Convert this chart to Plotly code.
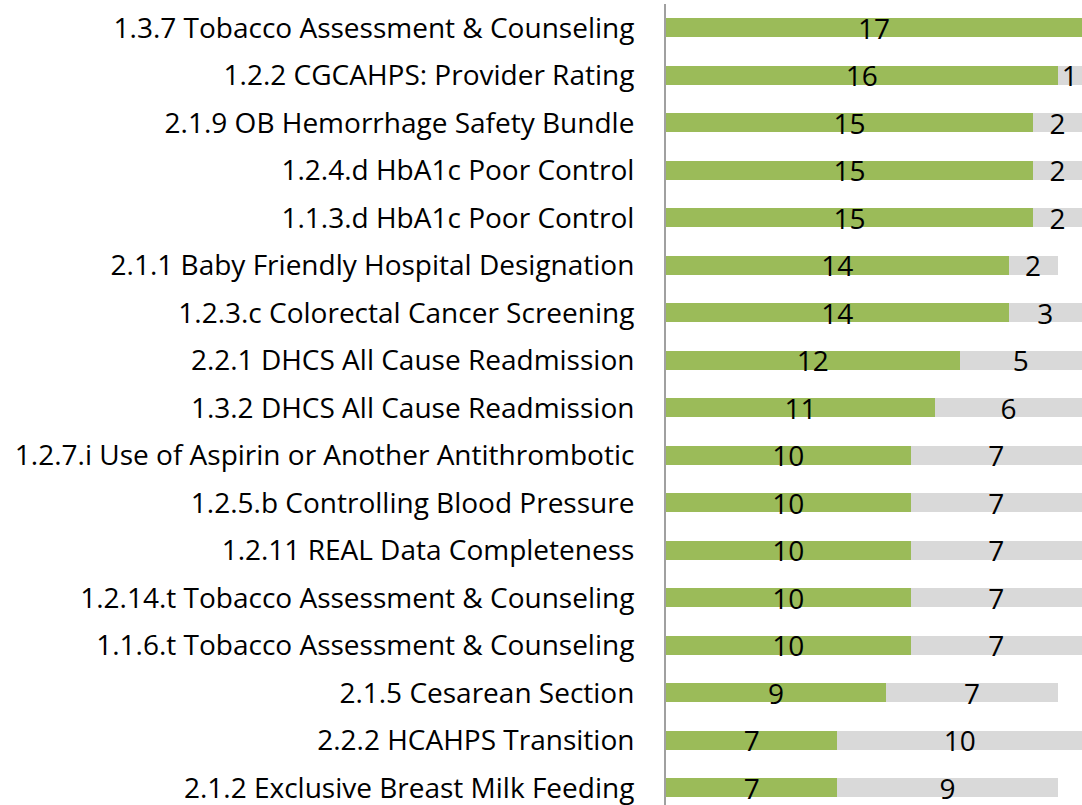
import plotly.graph_objects as go

categories = [
    "1.3.7 Tobacco Assessment & Counseling",
    "1.2.2 CGCAHPS: Provider Rating",
    "2.1.9 OB Hemorrhage Safety Bundle",
    "1.2.4.d HbA1c Poor Control",
    "1.1.3.d HbA1c Poor Control",
    "2.1.1 Baby Friendly Hospital Designation",
    "1.2.3.c Colorectal Cancer Screening",
    "2.2.1 DHCS All Cause Readmission",
    "1.3.2 DHCS All Cause Readmission",
    "1.2.7.i Use of Aspirin or Another Antithrombotic",
    "1.2.5.b Controlling Blood Pressure",
    "1.2.11 REAL Data Completeness",
    "1.2.14.t Tobacco Assessment & Counseling",
    "1.1.6.t Tobacco Assessment & Counseling",
    "2.1.5 Cesarean Section",
    "2.2.2 HCAHPS Transition",
    "2.1.2 Exclusive Breast Milk Feeding",
]
met = [17, 16, 15, 15, 15, 14, 14, 12, 11, 10, 10, 10, 10, 10, 9, 7, 7]
not_met = [0, 1, 2, 2, 2, 2, 3, 5, 6, 7, 7, 7, 7, 7, 7, 10, 9]

FONT = "'Open Sans', 'Noto Sans', sans-serif"
FS = 28

fig = go.Figure()
fig.add_trace(go.Bar(
    y=categories, x=met, orientation="h",
    marker=dict(color="#9BBB59", line=dict(width=0)),
    text=[str(v) if v else "" for v in met],
    textposition="inside", insidetextanchor="middle", textangle=0,
    constraintext="none", cliponaxis=False,
    textfont=dict(family=FONT, size=FS, color="#000000"),
    hoverinfo="skip",
))
fig.add_trace(go.Bar(
    y=categories, x=not_met, orientation="h",
    marker=dict(color="#D9D9D9", line=dict(width=0)),
    text=[str(v) if v else "" for v in not_met],
    textposition="inside", insidetextanchor="middle", textangle=0,
    constraintext="none", cliponaxis=False,
    textfont=dict(family=FONT, size=FS, color="#000000"),
    hoverinfo="skip",
))

fig.update_layout(
    barmode="stack",
    bargap=0.6,
    width=1082, height=805,
    margin=dict(l=666, r=0, t=4, b=0, autoexpand=False),
    paper_bgcolor="white", plot_bgcolor="white",
    showlegend=False,
    font=dict(family=FONT, color="#000000"),
)
fig.update_xaxes(range=[0, 17], visible=False, showgrid=False, zeroline=False, automargin=False)
fig.update_yaxes(
    type="category",
    range=[16.36, -0.5],
    automargin=False,
    showline=True, linecolor="#A0A0A0", linewidth=2,
    showgrid=False, zeroline=False, ticks="",
    ticklabelstandoff=24,
    tickfont=dict(family=FONT, size=FS, color="#000000"),
)

fig.write_html(
    "out.html",
    config={"displayModeBar": False},
    post_script="document.body.style.margin='0px';",
)
